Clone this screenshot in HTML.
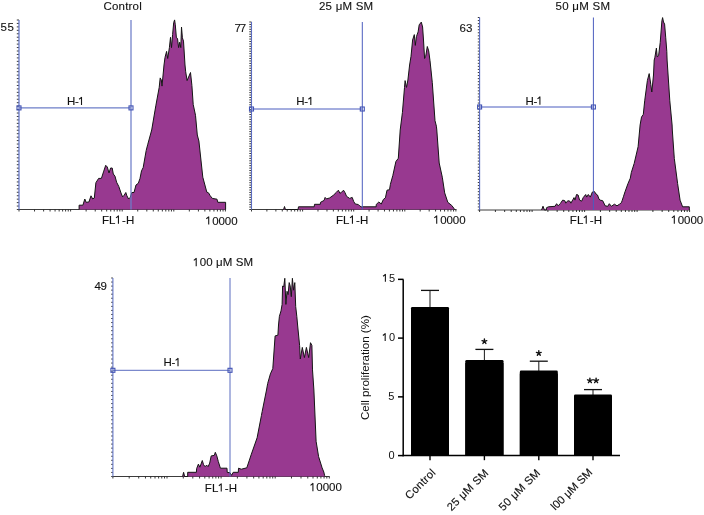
<!DOCTYPE html>
<html><head><meta charset="utf-8"><style>html,body{margin:0;padding:0;background:#fff;width:704px;height:515px;overflow:hidden}
text{stroke:#111;stroke-width:0.12px}
text.nb{stroke:none}
tspan.h1{fill:none;stroke:none}
svg{display:block;will-change:transform;font-family:"Liberation Sans",sans-serif;fill:#111}</style></head><body>
<svg width="704" height="515" viewBox="0 0 704 515">
<line x1="19.0" y1="209.5" x2="226" y2="209.5" stroke="#3c3c3c" stroke-width="1"/>
<path d="M79.10,209.50 L79.10,209.50 L79.10,205.20 L82.90,205.20 L84.80,199.00 L86.10,202.30 L88.90,202.00 L91.00,195.80 L92.70,199.00 L94.30,198.00 L95.90,182.70 L98.60,178.40 L101.40,178.40 L103.50,171.90 L105.70,165.30 L107.30,167.00 L109.00,173.00 L110.60,168.00 L112.20,168.00 L113.30,174.00 L115.00,176.20 L116.60,182.20 L118.80,186.50 L121.00,193.00 L122.60,196.90 L124.20,195.20 L125.80,192.50 L126.90,195.80 L128.60,199.00 L130.20,197.40 L131.80,192.50 L134.00,192.50 L136.00,185.00 L138.30,183.30 L140.00,178.40 L141.50,170.90 L143.20,167.50 L146.20,150.40 L147.80,144.20 L151.70,130.00 L155.80,105.80 L159.20,87.40 L160.20,77.90 L161.30,80.00 L162.00,86.10 L164.00,65.00 L165.00,57.40 L166.60,51.40 L167.70,58.50 L169.40,47.60 L170.50,37.30 L171.50,47.60 L172.60,34.60 L173.70,22.60 L174.60,19.90 L175.30,24.80 L176.40,37.80 L177.50,38.40 L178.60,47.60 L179.70,42.20 L180.80,47.60 L181.50,27.00 L182.40,37.80 L183.50,41.10 L185.00,65.00 L185.70,71.80 L187.10,80.60 L190.50,72.50 L191.90,85.40 L193.20,104.40 L195.50,115.30 L197.30,135.00 L198.90,141.00 L202.80,177.20 L206.80,192.10 L208.60,192.90 L209.90,195.30 L212.30,198.40 L217.00,199.20 L217.80,202.30 L225.60,202.30 L225.60,209.50 L225.60,209.50 Z" fill="#983990" stroke="none"/>
<path d="M79.10,209.50 L79.10,205.20 L82.90,205.20 L84.80,199.00 L86.10,202.30 L88.90,202.00 L91.00,195.80 L92.70,199.00 L94.30,198.00 L95.90,182.70 L98.60,178.40 L101.40,178.40 L103.50,171.90 L105.70,165.30 L107.30,167.00 L109.00,173.00 L110.60,168.00 L112.20,168.00 L113.30,174.00 L115.00,176.20 L116.60,182.20 L118.80,186.50 L121.00,193.00 L122.60,196.90 L124.20,195.20 L125.80,192.50 L126.90,195.80 L128.60,199.00 L130.20,197.40 L131.80,192.50 L134.00,192.50 L136.00,185.00 L138.30,183.30 L140.00,178.40 L141.50,170.90 L143.20,167.50 L146.20,150.40 L147.80,144.20 L151.70,130.00 L155.80,105.80 L159.20,87.40 L160.20,77.90 L161.30,80.00 L162.00,86.10 L164.00,65.00 L165.00,57.40 L166.60,51.40 L167.70,58.50 L169.40,47.60 L170.50,37.30 L171.50,47.60 L172.60,34.60 L173.70,22.60 L174.60,19.90 L175.30,24.80 L176.40,37.80 L177.50,38.40 L178.60,47.60 L179.70,42.20 L180.80,47.60 L181.50,27.00 L182.40,37.80 L183.50,41.10 L185.00,65.00 L185.70,71.80 L187.10,80.60 L190.50,72.50 L191.90,85.40 L193.20,104.40 L195.50,115.30 L197.30,135.00 L198.90,141.00 L202.80,177.20 L206.80,192.10 L208.60,192.90 L209.90,195.30 L212.30,198.40 L217.00,199.20 L217.80,202.30 L225.60,202.30 L225.60,209.50" fill="none" stroke="#141414" stroke-width="1.0" stroke-linejoin="miter"/>
<path d="M19.00,209.50 v2.0 M34.53,209.50 v2.0 M43.62,209.50 v2.0 M50.07,209.50 v2.0 M55.07,209.50 v2.0 M59.15,209.50 v2.0 M62.61,209.50 v2.0 M65.60,209.50 v2.0 M68.24,209.50 v2.0 M70.60,209.50 v2.0 M86.13,209.50 v2.0 M95.22,209.50 v2.0 M101.67,209.50 v2.0 M106.67,209.50 v2.0 M110.75,209.50 v2.0 M114.21,209.50 v2.0 M117.20,209.50 v2.0 M119.84,209.50 v2.0 M122.20,209.50 v2.0 M137.73,209.50 v2.0 M146.82,209.50 v2.0 M153.27,209.50 v2.0 M158.27,209.50 v2.0 M162.35,209.50 v2.0 M165.81,209.50 v2.0 M168.80,209.50 v2.0 M171.44,209.50 v2.0 M173.80,209.50 v2.0 M189.33,209.50 v2.0 M198.42,209.50 v2.0 M204.87,209.50 v2.0 M209.87,209.50 v2.0 M213.95,209.50 v2.0 M217.41,209.50 v2.0 M220.40,209.50 v2.0 M223.04,209.50 v2.0 M225.40,209.50 v2.0" stroke="#222" stroke-width="0.9" fill="none"/>
<path d="M19.00,209.50 h-2.20 M19.00,206.05 h-2.20 M19.00,202.61 h-2.20 M19.00,199.16 h-2.20 M19.00,195.72 h-2.20 M19.00,192.27 h-2.20 M19.00,188.83 h-2.20 M19.00,185.38 h-2.20 M19.00,181.94 h-2.20 M19.00,178.49 h-2.20 M19.00,175.05 h-2.20 M19.00,171.60 h-2.20 M19.00,168.15 h-2.20 M19.00,164.71 h-2.20 M19.00,161.26 h-2.20 M19.00,157.82 h-2.20 M19.00,154.37 h-2.20 M19.00,150.93 h-2.20 M19.00,147.48 h-2.20 M19.00,144.04 h-2.20 M19.00,140.59 h-2.20 M19.00,137.15 h-2.20 M19.00,133.70 h-2.20 M19.00,130.25 h-2.20 M19.00,126.81 h-2.20 M19.00,123.36 h-2.20 M19.00,119.92 h-2.20 M19.00,116.47 h-2.20 M19.00,113.03 h-2.20 M19.00,109.58 h-2.20 M19.00,106.14 h-2.20 M19.00,102.69 h-2.20 M19.00,99.25 h-2.20 M19.00,95.80 h-2.20 M19.00,92.35 h-2.20 M19.00,88.91 h-2.20 M19.00,85.46 h-2.20 M19.00,82.02 h-2.20 M19.00,78.57 h-2.20 M19.00,75.13 h-2.20 M19.00,71.68 h-2.20 M19.00,68.24 h-2.20 M19.00,64.79 h-2.20 M19.00,61.35 h-2.20 M19.00,57.90 h-2.20 M19.00,54.45 h-2.20 M19.00,51.01 h-2.20 M19.00,47.56 h-2.20 M19.00,44.12 h-2.20 M19.00,40.67 h-2.20 M19.00,37.23 h-2.20 M19.00,33.78 h-2.20 M19.00,30.34 h-2.20 M19.00,26.89 h-2.20 M19.00,23.45 h-2.20 M19.00,20.00 h-2.20" stroke="#222" stroke-width="0.9" fill="none"/>
<line x1="19.0" y1="20" x2="19.0" y2="209.5" stroke="#6a7bc8" stroke-width="1.3"/>
<line x1="19.0" y1="107.9" x2="131" y2="107.9" stroke="#6d7ec8" stroke-width="1.25"/>
<line x1="131" y1="20" x2="131" y2="209.5" stroke="#6d7ec8" stroke-width="1.25"/>
<rect x="17.0" y="105.9" width="4" height="4" fill="none" stroke="#4253b4" stroke-width="1.1"/>
<rect x="129" y="105.9" width="4" height="4" fill="none" stroke="#4253b4" stroke-width="1.1"/>
<text x="103.5" y="10" font-size="11.5" textLength="38.2" lengthAdjust="spacing">Control</text>
<text x="0.5" y="31.2" font-size="11.5" textLength="13.3" lengthAdjust="spacing">55</text>
<text x="67" y="105" font-size="11.5" textLength="18" lengthAdjust="spacing">H-<tspan class="h1">1</tspan></text>
<text x="102" y="223.7" font-size="11.5" textLength="32.2" lengthAdjust="spacing">FL<tspan class="h1">1</tspan>-H</text>
<text x="205.8" y="224.5" font-size="11.5" textLength="31.8" lengthAdjust="spacing"><tspan class="h1">1</tspan>0000</text>
<line x1="251.5" y1="209.5" x2="456.5" y2="209.5" stroke="#3c3c3c" stroke-width="1"/>
<path d="M283.60,209.50 L283.60,209.50 L284.50,206.50 L285.40,209.50 L298.00,209.50 L298.50,206.80 L314.20,206.80 L314.50,204.30 L320.30,204.30 L320.50,202.30 L324.10,200.40 L325.10,197.40 L326.60,198.90 L329.70,197.90 L333.30,195.30 L336.40,192.30 L338.40,190.20 L339.90,193.30 L341.50,192.30 L343.50,190.20 L345.10,192.80 L346.60,196.40 L349.70,198.40 L352.20,197.40 L353.70,201.50 L355.30,204.00 L358.30,204.50 L359.90,206.10 L361.90,207.10 L363.00,206.80 L376.20,206.80 L376.20,204.50 L378.80,202.00 L381.30,204.00 L383.40,199.40 L385.40,197.90 L387.00,190.20 L389.50,189.70 L390.40,184.30 L392.80,175.60 L395.90,161.50 L398.30,158.30 L400.20,130.00 L402.40,112.60 L404.50,87.40 L405.10,80.60 L406.50,87.40 L407.90,80.00 L409.60,65.00 L411.00,56.30 L412.60,40.00 L414.30,34.60 L415.30,45.40 L416.40,36.70 L418.10,31.90 L419.20,24.80 L421.30,22.10 L422.60,27.00 L423.50,40.00 L424.60,58.50 L425.70,56.30 L427.30,46.50 L428.70,50.90 L430.00,60.70 L431.10,71.00 L432.30,82.70 L435.00,120.70 L436.40,126.20 L436.80,130.00 L439.20,163.00 L442.30,177.20 L444.70,192.90 L447.80,202.30 L451.80,205.50 L454.10,208.60 L454.50,209.50 L454.50,209.50 Z" fill="#983990" stroke="none"/>
<path d="M283.60,209.50 L284.50,206.50 L285.40,209.50 L298.00,209.50 L298.50,206.80 L314.20,206.80 L314.50,204.30 L320.30,204.30 L320.50,202.30 L324.10,200.40 L325.10,197.40 L326.60,198.90 L329.70,197.90 L333.30,195.30 L336.40,192.30 L338.40,190.20 L339.90,193.30 L341.50,192.30 L343.50,190.20 L345.10,192.80 L346.60,196.40 L349.70,198.40 L352.20,197.40 L353.70,201.50 L355.30,204.00 L358.30,204.50 L359.90,206.10 L361.90,207.10 L363.00,206.80 L376.20,206.80 L376.20,204.50 L378.80,202.00 L381.30,204.00 L383.40,199.40 L385.40,197.90 L387.00,190.20 L389.50,189.70 L390.40,184.30 L392.80,175.60 L395.90,161.50 L398.30,158.30 L400.20,130.00 L402.40,112.60 L404.50,87.40 L405.10,80.60 L406.50,87.40 L407.90,80.00 L409.60,65.00 L411.00,56.30 L412.60,40.00 L414.30,34.60 L415.30,45.40 L416.40,36.70 L418.10,31.90 L419.20,24.80 L421.30,22.10 L422.60,27.00 L423.50,40.00 L424.60,58.50 L425.70,56.30 L427.30,46.50 L428.70,50.90 L430.00,60.70 L431.10,71.00 L432.30,82.70 L435.00,120.70 L436.40,126.20 L436.80,130.00 L439.20,163.00 L442.30,177.20 L444.70,192.90 L447.80,202.30 L451.80,205.50 L454.10,208.60 L454.50,209.50" fill="none" stroke="#141414" stroke-width="1.0" stroke-linejoin="miter"/>
<path d="M251.50,209.50 v2.0 M266.88,209.50 v2.0 M275.88,209.50 v2.0 M282.27,209.50 v2.0 M287.22,209.50 v2.0 M291.26,209.50 v2.0 M294.68,209.50 v2.0 M297.65,209.50 v2.0 M300.26,209.50 v2.0 M302.60,209.50 v2.0 M317.98,209.50 v2.0 M326.98,209.50 v2.0 M333.37,209.50 v2.0 M338.32,209.50 v2.0 M342.36,209.50 v2.0 M345.78,209.50 v2.0 M348.75,209.50 v2.0 M351.36,209.50 v2.0 M353.70,209.50 v2.0 M369.08,209.50 v2.0 M378.08,209.50 v2.0 M384.47,209.50 v2.0 M389.42,209.50 v2.0 M393.46,209.50 v2.0 M396.88,209.50 v2.0 M399.85,209.50 v2.0 M402.46,209.50 v2.0 M404.80,209.50 v2.0 M420.18,209.50 v2.0 M429.18,209.50 v2.0 M435.57,209.50 v2.0 M440.52,209.50 v2.0 M444.56,209.50 v2.0 M447.98,209.50 v2.0 M450.95,209.50 v2.0 M453.56,209.50 v2.0 M455.90,209.50 v2.0" stroke="#222" stroke-width="0.9" fill="none"/>
<path d="M251.50,209.50 h-2.20 M251.50,207.06 h-2.20 M251.50,204.63 h-2.20 M251.50,202.19 h-2.20 M251.50,199.76 h-2.20 M251.50,197.32 h-2.20 M251.50,194.89 h-2.20 M251.50,192.45 h-2.20 M251.50,190.02 h-2.20 M251.50,187.58 h-2.20 M251.50,185.15 h-2.20 M251.50,182.71 h-2.20 M251.50,180.28 h-2.20 M251.50,177.84 h-2.20 M251.50,175.41 h-2.20 M251.50,172.97 h-2.20 M251.50,170.54 h-2.20 M251.50,168.10 h-2.20 M251.50,165.67 h-2.20 M251.50,163.23 h-2.20 M251.50,160.80 h-2.20 M251.50,158.36 h-2.20 M251.50,155.93 h-2.20 M251.50,153.49 h-2.20 M251.50,151.06 h-2.20 M251.50,148.62 h-2.20 M251.50,146.19 h-2.20 M251.50,143.75 h-2.20 M251.50,141.32 h-2.20 M251.50,138.88 h-2.20 M251.50,136.45 h-2.20 M251.50,134.01 h-2.20 M251.50,131.58 h-2.20 M251.50,129.14 h-2.20 M251.50,126.71 h-2.20 M251.50,124.27 h-2.20 M251.50,121.84 h-2.20 M251.50,119.40 h-2.20 M251.50,116.97 h-2.20 M251.50,114.53 h-2.20 M251.50,112.10 h-2.20 M251.50,109.66 h-2.20 M251.50,107.23 h-2.20 M251.50,104.79 h-2.20 M251.50,102.36 h-2.20 M251.50,99.92 h-2.20 M251.50,97.49 h-2.20 M251.50,95.05 h-2.20 M251.50,92.62 h-2.20 M251.50,90.18 h-2.20 M251.50,87.75 h-2.20 M251.50,85.31 h-2.20 M251.50,82.88 h-2.20 M251.50,80.44 h-2.20 M251.50,78.01 h-2.20 M251.50,75.57 h-2.20 M251.50,73.14 h-2.20 M251.50,70.70 h-2.20 M251.50,68.27 h-2.20 M251.50,65.83 h-2.20 M251.50,63.40 h-2.20 M251.50,60.96 h-2.20 M251.50,58.53 h-2.20 M251.50,56.09 h-2.20 M251.50,53.66 h-2.20 M251.50,51.22 h-2.20 M251.50,48.79 h-2.20 M251.50,46.35 h-2.20 M251.50,43.92 h-2.20 M251.50,41.48 h-2.20 M251.50,39.05 h-2.20 M251.50,36.61 h-2.20 M251.50,34.18 h-2.20 M251.50,31.74 h-2.20 M251.50,29.31 h-2.20 M251.50,26.87 h-2.20 M251.50,24.44 h-2.20 M251.50,22.00 h-2.20" stroke="#222" stroke-width="0.9" fill="none"/>
<line x1="251.5" y1="22" x2="251.5" y2="209.5" stroke="#5b6cc0" stroke-width="1.1"/>
<line x1="251.5" y1="109" x2="362.3" y2="109" stroke="#4b5dbf" stroke-width="1"/>
<line x1="362.3" y1="22" x2="362.3" y2="209.5" stroke="#4b5dbf" stroke-width="1"/>
<rect x="249.5" y="107" width="4" height="4" fill="none" stroke="#4253b4" stroke-width="1.1"/>
<rect x="360.3" y="107" width="4" height="4" fill="none" stroke="#4253b4" stroke-width="1.1"/>
<text x="319" y="10" font-size="11.5" textLength="54.2" lengthAdjust="spacing">25 μM SM</text>
<text x="234.5" y="32" font-size="11.5" textLength="11.7" lengthAdjust="spacing">77</text>
<text x="296.3" y="105" font-size="11.5" textLength="18" lengthAdjust="spacing">H-<tspan class="h1">1</tspan></text>
<text x="336" y="223.7" font-size="11.5" textLength="32.2" lengthAdjust="spacing">FL<tspan class="h1">1</tspan>-H</text>
<text x="433.8" y="223.7" font-size="11.5" textLength="31.8" lengthAdjust="spacing"><tspan class="h1">1</tspan>0000</text>
<line x1="479.6" y1="210" x2="689.6" y2="210" stroke="#3c3c3c" stroke-width="1"/>
<path d="M541.60,210.00 L541.60,210.00 L543.00,206.20 L544.40,210.00 L546.40,210.00 L546.40,207.80 L548.40,206.80 L555.00,206.30 L556.60,203.70 L558.10,205.80 L560.20,203.70 L562.70,200.10 L564.80,200.70 L565.80,203.20 L567.80,200.70 L569.90,201.20 L570.90,203.20 L572.90,199.60 L574.00,197.60 L575.00,200.10 L576.50,194.50 L578.10,195.00 L579.60,200.10 L581.60,201.20 L583.20,197.60 L585.70,194.50 L586.70,197.10 L588.30,194.50 L590.30,197.10 L592.40,192.00 L594.40,191.50 L596.00,194.00 L597.50,195.00 L599.00,199.10 L600.10,200.10 L602.70,200.70 L605.20,205.80 L607.80,206.30 L609.30,203.70 L611.40,206.30 L614.40,204.20 L617.00,205.80 L619.50,204.20 L621.40,202.70 L622.10,200.70 L623.40,196.80 L625.00,191.80 L628.00,183.50 L630.30,178.20 L631.30,172.60 L634.20,163.40 L638.10,146.70 L640.10,125.00 L641.50,117.10 L643.30,114.40 L644.70,100.80 L647.40,80.40 L649.20,73.60 L650.80,84.50 L651.80,92.00 L653.50,75.00 L654.20,60.00 L654.80,57.80 L656.40,48.10 L657.20,56.80 L658.60,55.70 L660.20,42.60 L661.90,20.90 L662.60,17.60 L663.50,22.00 L664.60,24.10 L665.70,37.20 L666.80,51.30 L667.10,60.00 L669.80,100.80 L672.10,125.00 L672.30,130.00 L674.30,158.40 L677.60,183.50 L680.10,200.20 L682.60,206.80 L689.30,206.80 L689.30,210.00 L689.30,210.00 Z" fill="#983990" stroke="none"/>
<path d="M541.60,210.00 L543.00,206.20 L544.40,210.00 L546.40,210.00 L546.40,207.80 L548.40,206.80 L555.00,206.30 L556.60,203.70 L558.10,205.80 L560.20,203.70 L562.70,200.10 L564.80,200.70 L565.80,203.20 L567.80,200.70 L569.90,201.20 L570.90,203.20 L572.90,199.60 L574.00,197.60 L575.00,200.10 L576.50,194.50 L578.10,195.00 L579.60,200.10 L581.60,201.20 L583.20,197.60 L585.70,194.50 L586.70,197.10 L588.30,194.50 L590.30,197.10 L592.40,192.00 L594.40,191.50 L596.00,194.00 L597.50,195.00 L599.00,199.10 L600.10,200.10 L602.70,200.70 L605.20,205.80 L607.80,206.30 L609.30,203.70 L611.40,206.30 L614.40,204.20 L617.00,205.80 L619.50,204.20 L621.40,202.70 L622.10,200.70 L623.40,196.80 L625.00,191.80 L628.00,183.50 L630.30,178.20 L631.30,172.60 L634.20,163.40 L638.10,146.70 L640.10,125.00 L641.50,117.10 L643.30,114.40 L644.70,100.80 L647.40,80.40 L649.20,73.60 L650.80,84.50 L651.80,92.00 L653.50,75.00 L654.20,60.00 L654.80,57.80 L656.40,48.10 L657.20,56.80 L658.60,55.70 L660.20,42.60 L661.90,20.90 L662.60,17.60 L663.50,22.00 L664.60,24.10 L665.70,37.20 L666.80,51.30 L667.10,60.00 L669.80,100.80 L672.10,125.00 L672.30,130.00 L674.30,158.40 L677.60,183.50 L680.10,200.20 L682.60,206.80 L689.30,206.80 L689.30,210.00" fill="none" stroke="#141414" stroke-width="1.0" stroke-linejoin="miter"/>
<path d="M479.60,210.00 v2.0 M495.40,210.00 v2.0 M504.65,210.00 v2.0 M511.21,210.00 v2.0 M516.30,210.00 v2.0 M520.45,210.00 v2.0 M523.97,210.00 v2.0 M527.01,210.00 v2.0 M529.70,210.00 v2.0 M532.10,210.00 v2.0 M547.90,210.00 v2.0 M557.15,210.00 v2.0 M563.71,210.00 v2.0 M568.80,210.00 v2.0 M572.95,210.00 v2.0 M576.47,210.00 v2.0 M579.51,210.00 v2.0 M582.20,210.00 v2.0 M584.60,210.00 v2.0 M600.40,210.00 v2.0 M609.65,210.00 v2.0 M616.21,210.00 v2.0 M621.30,210.00 v2.0 M625.45,210.00 v2.0 M628.97,210.00 v2.0 M632.01,210.00 v2.0 M634.70,210.00 v2.0 M637.10,210.00 v2.0 M652.90,210.00 v2.0 M662.15,210.00 v2.0 M668.71,210.00 v2.0 M673.80,210.00 v2.0 M677.95,210.00 v2.0 M681.47,210.00 v2.0 M684.51,210.00 v2.0 M687.20,210.00 v2.0 M689.60,210.00 v2.0" stroke="#222" stroke-width="0.9" fill="none"/>
<path d="M479.60,210.00 h-1.80 M479.60,206.94 h-1.80 M479.60,203.89 h-1.80 M479.60,200.83 h-1.80 M479.60,197.78 h-1.80 M479.60,194.72 h-1.80 M479.60,191.67 h-1.80 M479.60,188.61 h-1.80 M479.60,185.56 h-1.80 M479.60,182.50 h-1.80 M479.60,179.44 h-1.80 M479.60,176.39 h-1.80 M479.60,173.33 h-1.80 M479.60,170.28 h-1.80 M479.60,167.22 h-1.80 M479.60,164.17 h-1.80 M479.60,161.11 h-1.80 M479.60,158.06 h-1.80 M479.60,155.00 h-1.80 M479.60,151.94 h-1.80 M479.60,148.89 h-1.80 M479.60,145.83 h-1.80 M479.60,142.78 h-1.80 M479.60,139.72 h-1.80 M479.60,136.67 h-1.80 M479.60,133.61 h-1.80 M479.60,130.56 h-1.80 M479.60,127.50 h-1.80 M479.60,124.44 h-1.80 M479.60,121.39 h-1.80 M479.60,118.33 h-1.80 M479.60,115.28 h-1.80 M479.60,112.22 h-1.80 M479.60,109.17 h-1.80 M479.60,106.11 h-1.80 M479.60,103.06 h-1.80 M479.60,100.00 h-1.80 M479.60,96.94 h-1.80 M479.60,93.89 h-1.80 M479.60,90.83 h-1.80 M479.60,87.78 h-1.80 M479.60,84.72 h-1.80 M479.60,81.67 h-1.80 M479.60,78.61 h-1.80 M479.60,75.56 h-1.80 M479.60,72.50 h-1.80 M479.60,69.44 h-1.80 M479.60,66.39 h-1.80 M479.60,63.33 h-1.80 M479.60,60.28 h-1.80 M479.60,57.22 h-1.80 M479.60,54.17 h-1.80 M479.60,51.11 h-1.80 M479.60,48.06 h-1.80 M479.60,45.00 h-1.80 M479.60,41.94 h-1.80 M479.60,38.89 h-1.80 M479.60,35.83 h-1.80 M479.60,32.78 h-1.80 M479.60,29.72 h-1.80 M479.60,26.67 h-1.80 M479.60,23.61 h-1.80 M479.60,20.56 h-1.80 M479.60,17.50 h-1.80" stroke="#222" stroke-width="0.9" fill="none"/>
<line x1="479.6" y1="17.5" x2="479.6" y2="210" stroke="#5b6cc0" stroke-width="1.1"/>
<line x1="479.6" y1="107" x2="593.4" y2="107" stroke="#4b5dbf" stroke-width="1"/>
<line x1="593.4" y1="17.5" x2="593.4" y2="210" stroke="#4b5dbf" stroke-width="1"/>
<rect x="477.6" y="105" width="4" height="4" fill="none" stroke="#4253b4" stroke-width="1.1"/>
<rect x="591.4" y="105" width="4" height="4" fill="none" stroke="#4253b4" stroke-width="1.1"/>
<text x="555.6" y="10" font-size="11.5" textLength="54.4" lengthAdjust="spacing">50 μM SM</text>
<text x="459.5" y="31.5" font-size="11.5" textLength="12.8" lengthAdjust="spacing">63</text>
<text x="525.4" y="104.7" font-size="11.5" textLength="18" lengthAdjust="spacing">H-<tspan class="h1">1</tspan></text>
<text x="569.8" y="223.7" font-size="11.5" textLength="32.2" lengthAdjust="spacing">FL<tspan class="h1">1</tspan>-H</text>
<text x="671.4" y="223.7" font-size="11.5" textLength="31.8" lengthAdjust="spacing"><tspan class="h1">1</tspan>0000</text>
<line x1="112.9" y1="476.5" x2="329.6" y2="476.5" stroke="#3c3c3c" stroke-width="1"/>
<path d="M182.60,476.50 L182.60,476.50 L183.60,472.30 L184.60,476.50 L187.70,476.50 L187.70,472.30 L196.40,472.30 L196.60,468.70 L198.40,464.10 L199.90,467.20 L202.30,460.50 L203.50,464.60 L205.10,466.70 L206.60,465.10 L208.10,466.70 L209.70,463.10 L211.20,455.90 L214.30,455.40 L215.30,452.30 L216.80,455.90 L218.30,461.50 L220.40,468.20 L227.00,468.20 L227.20,472.30 L230.10,472.80 L231.60,475.30 L233.20,472.30 L238.30,472.30 L238.50,468.20 L241.30,469.20 L246.80,467.80 L249.40,460.10 L251.10,454.90 L257.10,437.80 L261.40,415.60 L262.20,411.40 L266.50,390.00 L267.70,383.40 L270.40,373.90 L272.80,368.50 L275.10,335.90 L277.90,335.20 L278.50,325.00 L279.40,316.30 L281.00,310.90 L282.10,304.40 L282.60,285.90 L283.70,287.00 L284.80,278.30 L285.90,304.40 L287.00,291.30 L288.10,294.60 L289.20,282.60 L290.20,285.90 L291.30,296.70 L292.40,278.30 L293.50,290.20 L294.80,282.60 L295.70,306.50 L296.80,316.30 L297.60,325.00 L299.60,345.40 L300.30,359.00 L302.30,347.40 L304.40,357.60 L306.40,347.40 L308.70,357.60 L310.50,342.70 L311.90,345.40 L312.50,369.90 L313.90,390.00 L316.10,441.30 L318.60,456.60 L322.10,467.80 L323.80,472.00 L324.60,475.40 L325.00,476.50 L325.00,476.50 Z" fill="#983990" stroke="none"/>
<path d="M182.60,476.50 L183.60,472.30 L184.60,476.50 L187.70,476.50 L187.70,472.30 L196.40,472.30 L196.60,468.70 L198.40,464.10 L199.90,467.20 L202.30,460.50 L203.50,464.60 L205.10,466.70 L206.60,465.10 L208.10,466.70 L209.70,463.10 L211.20,455.90 L214.30,455.40 L215.30,452.30 L216.80,455.90 L218.30,461.50 L220.40,468.20 L227.00,468.20 L227.20,472.30 L230.10,472.80 L231.60,475.30 L233.20,472.30 L238.30,472.30 L238.50,468.20 L241.30,469.20 L246.80,467.80 L249.40,460.10 L251.10,454.90 L257.10,437.80 L261.40,415.60 L262.20,411.40 L266.50,390.00 L267.70,383.40 L270.40,373.90 L272.80,368.50 L275.10,335.90 L277.90,335.20 L278.50,325.00 L279.40,316.30 L281.00,310.90 L282.10,304.40 L282.60,285.90 L283.70,287.00 L284.80,278.30 L285.90,304.40 L287.00,291.30 L288.10,294.60 L289.20,282.60 L290.20,285.90 L291.30,296.70 L292.40,278.30 L293.50,290.20 L294.80,282.60 L295.70,306.50 L296.80,316.30 L297.60,325.00 L299.60,345.40 L300.30,359.00 L302.30,347.40 L304.40,357.60 L306.40,347.40 L308.70,357.60 L310.50,342.70 L311.90,345.40 L312.50,369.90 L313.90,390.00 L316.10,441.30 L318.60,456.60 L322.10,467.80 L323.80,472.00 L324.60,475.40 L325.00,476.50" fill="none" stroke="#141414" stroke-width="1.0" stroke-linejoin="miter"/>
<path d="M112.90,476.50 v2.0 M129.19,476.50 v2.0 M138.71,476.50 v2.0 M145.47,476.50 v2.0 M150.71,476.50 v2.0 M155.00,476.50 v2.0 M158.62,476.50 v2.0 M161.76,476.50 v2.0 M164.52,476.50 v2.0 M167.00,476.50 v2.0 M183.29,476.50 v2.0 M192.81,476.50 v2.0 M199.57,476.50 v2.0 M204.81,476.50 v2.0 M209.10,476.50 v2.0 M212.72,476.50 v2.0 M215.86,476.50 v2.0 M218.62,476.50 v2.0 M221.10,476.50 v2.0 M237.39,476.50 v2.0 M246.91,476.50 v2.0 M253.67,476.50 v2.0 M258.91,476.50 v2.0 M263.20,476.50 v2.0 M266.82,476.50 v2.0 M269.96,476.50 v2.0 M272.72,476.50 v2.0 M275.20,476.50 v2.0 M291.49,476.50 v2.0 M301.01,476.50 v2.0 M307.77,476.50 v2.0 M313.01,476.50 v2.0 M317.30,476.50 v2.0 M320.92,476.50 v2.0 M324.06,476.50 v2.0 M326.82,476.50 v2.0 M329.30,476.50 v2.0" stroke="#222" stroke-width="0.9" fill="none"/>
<path d="M112.90,476.50 h-1.70 M112.90,472.45 h-1.70 M112.90,468.40 h-1.70 M112.90,464.35 h-1.70 M112.90,460.30 h-1.70 M112.90,456.24 h-1.70 M112.90,452.19 h-1.70 M112.90,448.14 h-1.70 M112.90,444.09 h-1.70 M112.90,440.04 h-1.70 M112.90,435.99 h-1.70 M112.90,431.94 h-1.70 M112.90,427.89 h-1.70 M112.90,423.84 h-1.70 M112.90,419.79 h-1.70 M112.90,415.73 h-1.70 M112.90,411.68 h-1.70 M112.90,407.63 h-1.70 M112.90,403.58 h-1.70 M112.90,399.53 h-1.70 M112.90,395.48 h-1.70 M112.90,391.43 h-1.70 M112.90,387.38 h-1.70 M112.90,383.33 h-1.70 M112.90,379.28 h-1.70 M112.90,375.22 h-1.70 M112.90,371.17 h-1.70 M112.90,367.12 h-1.70 M112.90,363.07 h-1.70 M112.90,359.02 h-1.70 M112.90,354.97 h-1.70 M112.90,350.92 h-1.70 M112.90,346.87 h-1.70 M112.90,342.82 h-1.70 M112.90,338.77 h-1.70 M112.90,334.71 h-1.70 M112.90,330.66 h-1.70 M112.90,326.61 h-1.70 M112.90,322.56 h-1.70 M112.90,318.51 h-1.70 M112.90,314.46 h-1.70 M112.90,310.41 h-1.70 M112.90,306.36 h-1.70 M112.90,302.31 h-1.70 M112.90,298.26 h-1.70 M112.90,294.20 h-1.70 M112.90,290.15 h-1.70 M112.90,286.10 h-1.70 M112.90,282.05 h-1.70 M112.90,278.00 h-1.70" stroke="#222" stroke-width="0.9" fill="none"/>
<line x1="112.9" y1="278" x2="112.9" y2="476.5" stroke="#6577c6" stroke-width="1.1"/>
<line x1="112.9" y1="370.3" x2="230" y2="370.3" stroke="#5b6cc0" stroke-width="1"/>
<line x1="230" y1="278" x2="230" y2="476.5" stroke="#5b6cc0" stroke-width="1"/>
<rect x="110.9" y="368.3" width="4" height="4" fill="none" stroke="#4253b4" stroke-width="1.1"/>
<rect x="228" y="368.3" width="4" height="4" fill="none" stroke="#4253b4" stroke-width="1.1"/>
<text x="193.3" y="266.2" font-size="11.5" textLength="59.8" lengthAdjust="spacing"><tspan class="h1">1</tspan>00 μM SM</text>
<text x="94.5" y="289.7" font-size="11.5" textLength="12.5" lengthAdjust="spacing">49</text>
<text x="163.5" y="366.2" font-size="11.5" textLength="18" lengthAdjust="spacing">H-<tspan class="h1">1</tspan></text>
<text x="204.8" y="491.5" font-size="11.5" textLength="32.2" lengthAdjust="spacing">FL<tspan class="h1">1</tspan>-H</text>
<text x="310" y="491.2" font-size="11.5" textLength="31.8" lengthAdjust="spacing"><tspan class="h1">1</tspan>0000</text>
<line x1="403.2" y1="279.4" x2="403.2" y2="456.3" stroke="#000" stroke-width="1.5"/>
<line x1="402.5" y1="455.6" x2="620" y2="455.6" stroke="#000" stroke-width="1.5"/>
<line x1="398" y1="455.60" x2="403.5" y2="455.60" stroke="#000" stroke-width="1.5"/>
<line x1="398" y1="396.85" x2="403.5" y2="396.85" stroke="#000" stroke-width="1.5"/>
<line x1="398" y1="338.10" x2="403.5" y2="338.10" stroke="#000" stroke-width="1.5"/>
<line x1="398" y1="279.35" x2="403.5" y2="279.35" stroke="#000" stroke-width="1.5"/>
<text x="382.6" y="281.8" font-size="11" textLength="12.4" lengthAdjust="spacing" class="nb"><tspan class="h1">1</tspan>5</text>
<text x="382.4" y="341" font-size="11" textLength="12.6" lengthAdjust="spacing" class="nb"><tspan class="h1">1</tspan>0</text>
<text x="388.2" y="400" font-size="11" textLength="6.6" lengthAdjust="spacing" class="nb">5</text>
<text x="388.4" y="458.9" font-size="11" textLength="6.8" lengthAdjust="spacing" class="nb">0</text>
<line x1="430.0" y1="290.4" x2="430.0" y2="308" stroke="#222" stroke-width="1.05"/>
<line x1="421.0" y1="290.4" x2="439.0" y2="290.4" stroke="#111" stroke-width="1.3"/>
<rect x="411" y="307" width="38" height="148.60000000000002" rx="1.3" fill="#000"/>
<rect x="411" y="310" width="38" height="145.60000000000002" fill="#000"/>
<line x1="430.0" y1="455.6" x2="430.0" y2="460.20000000000005" stroke="#000" stroke-width="1.4"/>
<line x1="484.4" y1="349.4" x2="484.4" y2="361" stroke="#222" stroke-width="1.05"/>
<line x1="475.4" y1="349.4" x2="493.4" y2="349.4" stroke="#111" stroke-width="1.3"/>
<rect x="465.3" y="360" width="38.19999999999999" height="95.60000000000002" rx="1.3" fill="#000"/>
<rect x="465.3" y="363" width="38.19999999999999" height="92.60000000000002" fill="#000"/>
<line x1="484.4" y1="455.6" x2="484.4" y2="460.20000000000005" stroke="#000" stroke-width="1.4"/>
<path d="M484.40,341.40 L484.40,338.90 M484.40,341.40 L486.78,340.63 M484.40,341.40 L485.87,343.42 M484.40,341.40 L482.93,343.42 M484.40,341.40 L482.02,340.63 " stroke="#111" stroke-width="1.4" stroke-linecap="round" fill="none"/>
<line x1="538.8" y1="361.2" x2="538.8" y2="371.6" stroke="#222" stroke-width="1.05"/>
<line x1="529.8" y1="361.2" x2="547.8" y2="361.2" stroke="#111" stroke-width="1.3"/>
<rect x="519.8" y="370.6" width="38.0" height="85.0" rx="1.3" fill="#000"/>
<rect x="519.8" y="373.6" width="38.0" height="82.0" fill="#000"/>
<line x1="538.8" y1="455.6" x2="538.8" y2="460.20000000000005" stroke="#000" stroke-width="1.4"/>
<path d="M538.80,353.20 L538.80,350.70 M538.80,353.20 L541.18,352.43 M538.80,353.20 L540.27,355.22 M538.80,353.20 L537.33,355.22 M538.80,353.20 L536.42,352.43 " stroke="#111" stroke-width="1.4" stroke-linecap="round" fill="none"/>
<line x1="593.0" y1="389.6" x2="593.0" y2="395.4" stroke="#222" stroke-width="1.05"/>
<line x1="584.0" y1="389.6" x2="602.0" y2="389.6" stroke="#111" stroke-width="1.3"/>
<rect x="574" y="394.4" width="38" height="61.200000000000045" rx="1.3" fill="#000"/>
<rect x="574" y="397.4" width="38" height="58.200000000000045" fill="#000"/>
<line x1="593.0" y1="455.6" x2="593.0" y2="460.20000000000005" stroke="#000" stroke-width="1.4"/>
<path d="M589.90,380.60 L589.90,378.10 M589.90,380.60 L592.28,379.83 M589.90,380.60 L591.37,382.62 M589.90,380.60 L588.43,382.62 M589.90,380.60 L587.52,379.83 " stroke="#111" stroke-width="1.4" stroke-linecap="round" fill="none"/>
<path d="M596.10,380.60 L596.10,378.10 M596.10,380.60 L598.48,379.83 M596.10,380.60 L597.57,382.62 M596.10,380.60 L594.63,382.62 M596.10,380.60 L593.72,379.83 " stroke="#111" stroke-width="1.4" stroke-linecap="round" fill="none"/>
<text x="0" y="0" font-size="11.2" textLength="37.6" lengthAdjust="spacing" text-anchor="end" transform="translate(432.3,468.2) rotate(-45) translate(-1,6.5)">Control</text>
<text x="0" y="0" font-size="11.2" textLength="53.2" lengthAdjust="spacing" text-anchor="end" transform="translate(485.1,468.5) rotate(-45) translate(-1,6.5)">25 μM SM</text>
<text x="0" y="0" font-size="11.2" textLength="53.2" lengthAdjust="spacing" text-anchor="end" transform="translate(536.9,468.5) rotate(-45) translate(-1,6.5)">50 μM SM</text>
<text x="0" y="0" font-size="11.2" textLength="53.4" lengthAdjust="spacing" text-anchor="end" transform="translate(589.2,467.8) rotate(-45) translate(-1,6.5)">l00 μM SM</text>
<text class="nb" x="0" y="0" font-size="11.6" text-anchor="middle" transform="translate(368.9,367.6) rotate(-90)" textLength="105" lengthAdjust="spacing">Cell proliferation (%)</text>
<path d="M81.51,96.90 V105.00 M81.81,97.10 L79.11,99.20 M118.45,215.60 V223.70 M118.75,215.80 L116.05,217.90 M208.71,216.40 V224.50 M209.01,216.60 L206.31,218.70 M310.81,96.90 V105.00 M311.11,97.10 L308.41,99.20 M352.45,215.60 V223.70 M352.75,215.80 L350.05,217.90 M436.71,215.60 V223.70 M437.01,215.80 L434.31,217.90 M539.91,96.60 V104.70 M540.21,96.80 L537.51,98.90 M586.25,215.60 V223.70 M586.55,215.80 L583.85,217.90 M674.31,215.60 V223.70 M674.61,215.80 L671.91,217.90 M196.21,258.10 V266.20 M196.51,258.30 L193.81,260.40 M178.01,358.10 V366.20 M178.31,358.30 L175.61,360.40 M221.25,483.40 V491.50 M221.55,483.60 L218.85,485.70 M312.91,483.10 V491.20 M313.21,483.30 L310.51,485.40 M385.39,274.05 V281.80 M385.69,274.25 L383.09,276.25 M385.19,333.25 V341.00 M385.49,333.45 L382.89,335.45" stroke="#161616" stroke-width="1.1" fill="none"/>
</svg></body></html>
